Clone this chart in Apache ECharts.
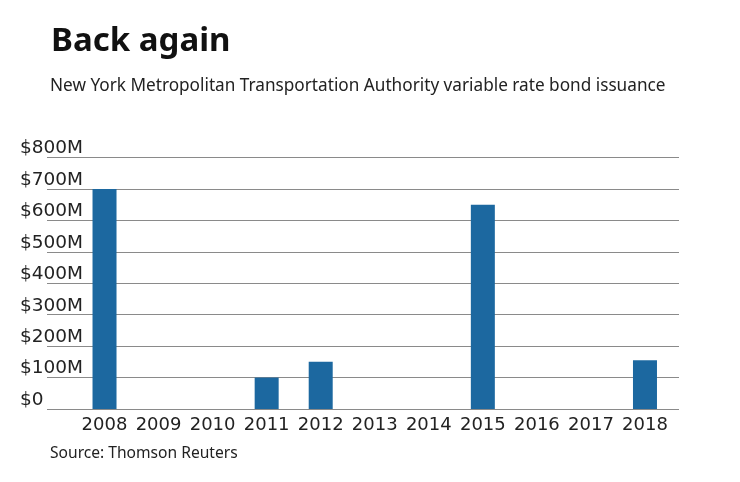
<!DOCTYPE html>
<html>
<head>
<meta charset="utf-8">
<script src="https://cdn.jsdelivr.net/npm/echarts@6/dist/echarts.min.js"></script>
<style>html,body{margin:0;padding:0;background:#fff;}#c{width:740px;height:482px;}</style>
</head>
<body>
<div id="c"></div>
<script>
const years = ['2008','2009','2010','2011','2012','2013','2014','2015','2016','2017','2018'];
const issuance = [700, 0, 0, 100, 150, 0, 0, 650, 0, 0, 155]; // $ millions
const yTicks = [0, 100, 200, 300, 400, 500, 600, 700, 800];

const chart = echarts.init(document.getElementById('c'), null, {renderer: 'canvas'});
const labelFont = 'DejaVu Sans';
chart.setOption({
  backgroundColor: '#fff',
  animation: false,
  title: [
    {text: 'Back again', left: 46, top: 20, textStyle: {fontFamily: 'Noto Sans', fontWeight: 'bold', fontSize: 33, color: '#111'}},
    {text: 'New York Metropolitan Transportation Authority variable rate bond issuance', left: 45, top: 73, textStyle: {fontFamily: 'Noto Sans', fontWeight: 'normal', fontSize: 17.2, color: '#222'}},
    {text: 'Source: Thomson Reuters', left: 45, top: 441, textStyle: {fontFamily: 'Noto Sans', fontWeight: 'normal', fontSize: 15.6, color: '#222'}}
  ],
  grid: [
    {left: 47, right: 61, top: 157.5, bottom: 73},
    {left: 77.5, right: 68, top: 157.5, bottom: 73}
  ],
  xAxis: [
    {gridIndex: 0, type: 'value', min: 0, max: 1, show: false},
    {gridIndex: 1, type: 'category', data: years,
      axisLine: {show: false}, axisTick: {show: false},
      axisLabel: {interval: 0, margin: 7, fontFamily: labelFont, fontSize: 18, color: '#222'}}
  ],
  yAxis: [
    {gridIndex: 0, type: 'value', min: yTicks[0], max: yTicks[yTicks.length-1], interval: 100,
      axisLine: {show: false}, axisTick: {show: false},
      splitLine: {show: true, lineStyle: {color: '#8a8a8a', width: 1}},
      axisLabel: {margin: 27, align: 'left', verticalAlign: 'bottom', lineHeight: 18, padding: [0,0,0,0],
        fontFamily: labelFont, fontSize: 18.5, color: '#222',
        formatter: v => v === 0 ? '$0' : '$' + v + 'M'}},
    {gridIndex: 1, type: 'value', min: yTicks[0], max: yTicks[yTicks.length-1], show: false}
  ],
  series: [
    {type: 'bar', xAxisIndex: 1, yAxisIndex: 1, data: issuance, barWidth: 24,
      itemStyle: {color: '#1c68a0'}}
  ]
});
</script>
</body>
</html>
